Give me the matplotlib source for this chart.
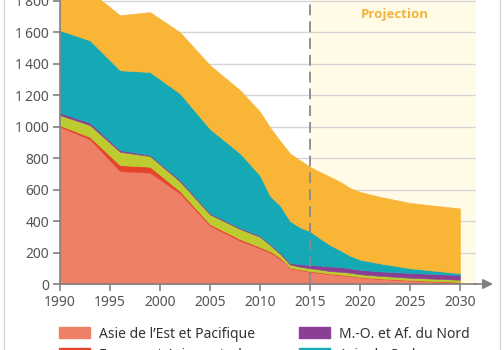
import matplotlib
matplotlib.use("Agg")
import matplotlib.pyplot as plt
from matplotlib.patches import Patch
from matplotlib.lines import Line2D

plt.rcParams['font.family'] = ['Noto Sans', 'DejaVu Sans']

# extreme poverty by region, millions of people
years = [1990, 1993, 1996, 1999, 2002, 2005, 2008, 2010, 2011, 2012, 2013,
         2014, 2015, 2016, 2017, 2018, 2019, 2020, 2022, 2025, 2030]
asie_est = [999, 919, 717, 707, 575, 370, 275, 227, 200, 160, 100,
            88, 78, 70, 62, 57, 50, 42, 32, 22, 10]
europe_ac = [9, 15, 38, 38, 15, 10, 10, 8, 8, 8, 4,
             4, 4, 4, 4, 3, 3, 3, 3, 3, 3]
amerique = [65, 76, 85, 68, 62, 62, 65, 65, 40, 25, 20,
            18, 18, 18, 16, 18, 19, 17, 17, 15, 14]
mo_afn = [15, 14, 11, 7, 10, 8, 7, 6, 7, 8, 10,
          16, 21, 25, 30, 30, 28, 28, 28, 30, 30]
asie_sud = [524, 524, 507, 527, 549, 535, 474, 384, 305, 299, 266,
            234, 214, 173, 136, 107, 80, 65, 51, 30, 11]
afrique = [288, 312, 350, 381, 389, 405, 401, 405, 435, 410, 430,
           427, 410, 422, 433, 435, 430, 430, 423, 415, 412]

labels = ["Asie de l\u2019Est et Pacifique", "Europe et Asie centrale",
          "Amérique latine et Caraïbes", "M.-O. et Af. du Nord",
          "Asie du Sud", "Afrique subsaharienne"]
colors = ["#EE8068", "#E5432A", "#BCCB2F", "#8A3F95", "#14A9B5", "#F8B536"]

yticks = [0, 200, 400, 600, 800, 1000, 1200, 1400, 1600, 1800]
ytick_labels = ["0", "200", "400", "600", "800", "1\u2009000", "1\u2009200",
                "1\u2009400", "1\u2009600", "1\u2009800"]
xticks = [1990, 1995, 2000, 2005, 2010, 2015, 2020, 2025, 2030]

grey = "#808080"
fig = plt.figure(figsize=(5.04, 3.5), dpi=100)
ax = fig.add_axes([60 / 504, 66 / 350, 416 / 504, 299 / 350])

ax.set_xlim(1990, 2031.6)
ax.set_ylim(0, 1900)

ax.axvspan(2015, 2031.6, color="#FFFBE6", zorder=0, lw=0)
for v in yticks[1:]:
    ax.axhline(v, color="#D6D6D6", lw=1, zorder=1)

ax.stackplot(years, asie_est, europe_ac, amerique, mo_afn, asie_sud, afrique,
             colors=colors, edgecolor="face", linewidth=0.4, zorder=2)

dl = ax.axvline(2015, color="#8A8A8A", lw=1.3, zorder=3)
dl.set_dashes((6, 3.3))

ax.text(2023.5, 1715, "Projection", color="#F2B43A", fontweight="bold",
        family=["Open Sans", "DejaVu Sans"],
        fontsize=9.5, ha="center", va="center")

for s in ["top", "right"]:
    ax.spines[s].set_visible(False)
ax.spines["left"].set_color(grey)
ax.spines["bottom"].set_color(grey)
ax.spines["left"].set_linewidth(1.2)
ax.spines["bottom"].set_linewidth(1.2)
ax.spines["left"].set_zorder(4)
ax.spines["bottom"].set_zorder(4)

ax.set_yticks(yticks)
ax.set_yticklabels(ytick_labels)
ax.set_xticks(xticks)
ax.tick_params(colors=grey, labelcolor="#555555", labelsize=10,
               length=5, width=1.2, pad=3)

ax.annotate("", xy=(2033.3, 0), xytext=(2031.4, 0), annotation_clip=False,
            arrowprops=dict(arrowstyle="-|>,head_length=0.6,head_width=0.3",
                            color=grey, lw=1.2, shrinkA=0, shrinkB=0))

# legend, two columns
h = [Patch(color=c) for c in colors]
fig.legend(h[:3], labels[:3], loc="upper left", bbox_to_anchor=(46 / 504, 1 - 314 / 350),
           frameon=False, fontsize=10, handlelength=2.3, handleheight=0.9,
           handletextpad=0.6, labelspacing=0.45, labelcolor="#333333")
fig.legend(h[3:], labels[3:], loc="upper left", bbox_to_anchor=(286 / 504, 1 - 314 / 350),
           frameon=False, fontsize=10, handlelength=2.3, handleheight=0.9,
           handletextpad=0.6, labelspacing=0.45, labelcolor="#333333")

# panel border
fig.add_artist(Line2D([3.5 / 504, 3.5 / 504], [0, 1], color="#D0D0D0", lw=0.8))
fig.add_artist(Line2D([499.5 / 504, 499.5 / 504], [0, 1], color="#D0D0D0", lw=0.8))

fig.savefig("out.png", dpi=100)
